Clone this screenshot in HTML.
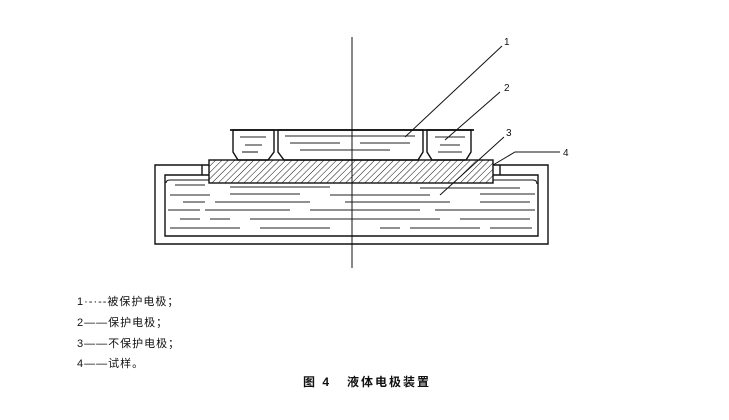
<!DOCTYPE html>
<html><head><meta charset="utf-8"><style>
body{margin:0;background:#fff;width:729px;height:420px;position:relative;overflow:hidden;font-family:"Liberation Sans","Noto Sans CJK SC",sans-serif;color:#111}
.t{position:absolute;font-size:11px;white-space:nowrap;letter-spacing:1px}
</style></head><body>
<svg width="729" height="420" style="position:absolute;left:0;top:0">
<defs><pattern id="h" width="4.5" height="4.5" patternUnits="userSpaceOnUse" patternTransform="rotate(45)"><line x1="0" y1="0" x2="0" y2="4.5" stroke="#111" stroke-width="1"/></pattern></defs>
<g fill="none" stroke="#111" stroke-width="1.4">
<path d="M209,165 H155 V244 H548 V165 H493"/>
<path d="M209,175 H165 V236 H538 V175 H493"/>
<path d="M202,165 V175 M500,165 V175"/>
<path d="M166,183 Q166,180 170,180 H209 M493,180 H533 Q537,180 537,184" stroke-width="1.1"/>
<rect x="209" y="160" width="284" height="23" fill="url(#h)"/>
<path d="M233,130 V152 L238,160 H268 L274,152 V130 Z"/>
<path d="M278,130 V152 L284,160 H418 L423,152 V130 Z"/>
<path d="M427,130 V152 L432,160 H466 L471,152 V130 Z"/>
<path d="M230,130 H474" stroke-width="1.8"/>
</g>
<g stroke="#222" stroke-width="1.1">
<line x1="240" y1="137" x2="266" y2="137"/><line x1="245" y1="145" x2="262" y2="145"/><line x1="242" y1="152" x2="258" y2="152"/>
<line x1="285" y1="136" x2="415" y2="136"/><line x1="290" y1="143" x2="340" y2="143"/><line x1="360" y1="143" x2="410" y2="143"/><line x1="300" y1="150" x2="390" y2="150"/>
<line x1="435" y1="137" x2="465" y2="137"/><line x1="440" y1="145" x2="460" y2="145"/><line x1="438" y1="152" x2="462" y2="152"/>
<line x1="175" y1="185" x2="205" y2="185"/><line x1="230" y1="187" x2="330" y2="187"/><line x1="420" y1="188" x2="520" y2="188"/>
<line x1="170" y1="195" x2="210" y2="195"/><line x1="230" y1="194" x2="300" y2="194"/><line x1="330" y1="195" x2="430" y2="195"/><line x1="480" y1="194" x2="535" y2="194"/>
<line x1="183" y1="202" x2="205" y2="202"/><line x1="215" y1="202" x2="310" y2="202"/><line x1="345" y1="202" x2="450" y2="202"/><line x1="480" y1="202" x2="530" y2="202"/>
<line x1="168" y1="210" x2="200" y2="210"/><line x1="205" y1="210" x2="290" y2="210"/><line x1="310" y1="210" x2="420" y2="210"/><line x1="435" y1="210" x2="535" y2="210"/>
<line x1="180" y1="219" x2="200" y2="219"/><line x1="210" y1="219" x2="230" y2="219"/><line x1="250" y1="219" x2="440" y2="219"/><line x1="460" y1="219" x2="530" y2="219"/>
<line x1="170" y1="228" x2="240" y2="228"/><line x1="260" y1="228" x2="330" y2="228"/><line x1="380" y1="228" x2="400" y2="228"/><line x1="410" y1="228" x2="480" y2="228"/><line x1="490" y1="228" x2="532" y2="228"/>
</g>
<g stroke="#111" stroke-width="1" fill="none">
<line x1="352" y1="37" x2="352" y2="268"/>
<line x1="502" y1="46" x2="405" y2="137"/>
<line x1="500" y1="92" x2="445" y2="140"/>
<line x1="504" y1="137" x2="440" y2="195"/>
<polyline points="560,152 515,152 493,165"/>
</g>
<g font-family="Liberation Sans,sans-serif" font-size="10" fill="#111">
<text x="504" y="45">1</text><text x="504" y="91">2</text><text x="506" y="136">3</text><text x="563" y="156">4</text>
</g>
</svg>
<div class="t" style="left:77px;top:293px">1·-·--被保护电极；</div>
<div class="t" style="left:77px;top:314px">2——保护电极；</div>
<div class="t" style="left:77px;top:335px">3——不保护电极；</div>
<div class="t" style="left:77px;top:355px">4——试样。</div>
<div class="t" style="left:303px;top:373px;font-weight:bold;font-size:12px;letter-spacing:2px">图 4 &nbsp; 液体电极装置</div>
</body></html>
